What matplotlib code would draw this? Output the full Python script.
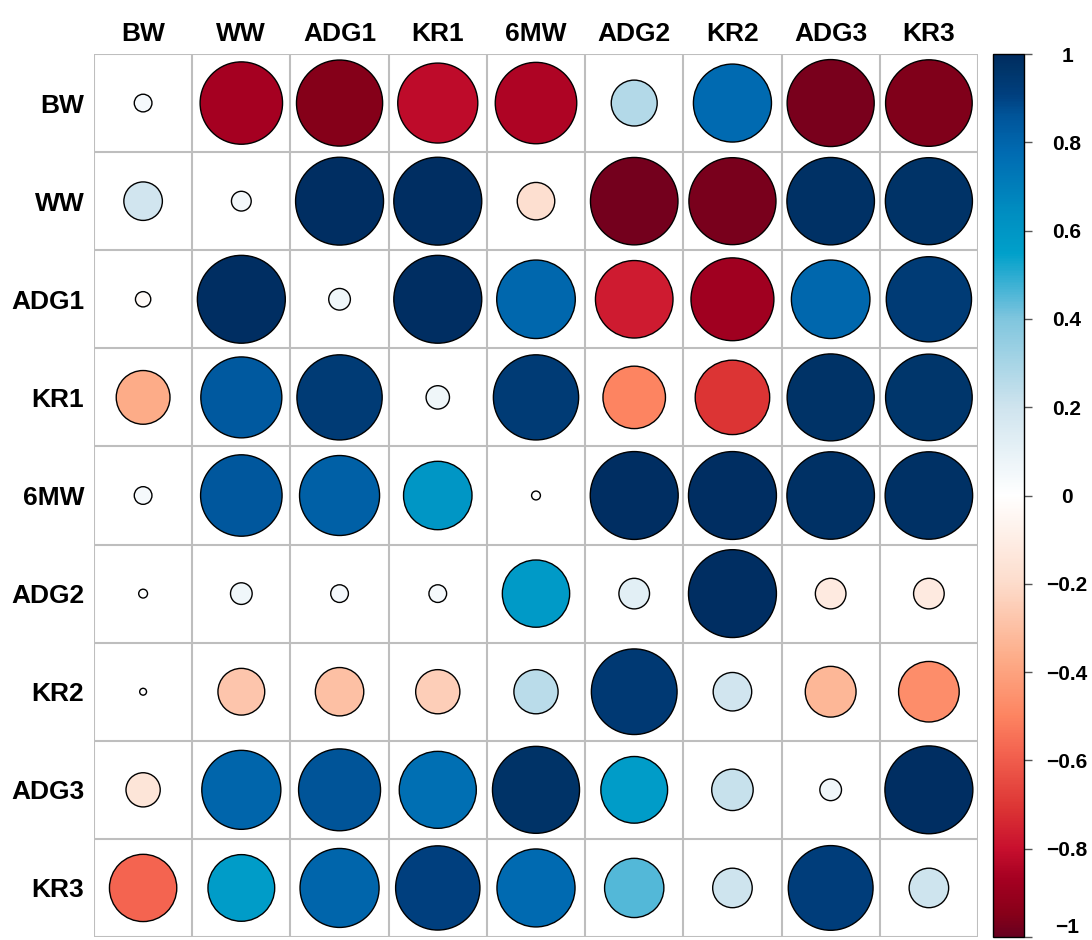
import numpy as np
import matplotlib.pyplot as plt
from matplotlib.patches import Circle
from matplotlib.colors import LinearSegmentedColormap, Normalize
from matplotlib.cm import ScalarMappable

plt.rcParams['font.family'] = ['Liberation Sans', 'DejaVu Sans']

# variable names (rows and columns)
labels = ["BW", "WW", "ADG1", "KR1", "6MW", "ADG2", "KR2", "ADG3", "KR3"]

# correlation values, one list per row
r_bw   = [0.04, -0.87, -0.95, -0.82, -0.85, 0.27, 0.78, -0.97, -0.96]
r_ww   = [0.19, 0.05, 0.99, 0.99, -0.18, -0.98, -0.97, 0.98, 0.97]
r_adg1 = [-0.03, 0.99, 0.06, 0.99, 0.79, -0.77, -0.88, 0.79, 0.93]
r_kr1  = [-0.37, 0.84, 0.93, 0.07, 0.93, -0.50, -0.71, 0.97, 0.96]
r_6mw  = [0.04, 0.85, 0.82, 0.60, 0.01, 0.99, 0.99, 0.98, 0.98]
r_adg2 = [0.01, 0.06, 0.04, 0.04, 0.58, 0.12, 0.99, -0.12, -0.12]
r_kr2  = [0.006, -0.28, -0.30, -0.25, 0.25, 0.94, 0.19, -0.33, -0.47]
r_adg3 = [-0.15, 0.80, 0.86, 0.76, 0.97, 0.57, 0.22, 0.06, 0.99]
r_kr3  = [-0.58, 0.57, 0.80, 0.91, 0.78, 0.45, 0.20, 0.92, 0.20]

corr = np.array([r_bw, r_ww, r_adg1, r_kr1, r_6mw, r_adg2, r_kr2, r_adg3, r_kr3])

# colour ramp from dark red through white to dark blue (value, colour)
ramp = [(-1.0, "#67001F"), (-0.95, "#870019"), (-0.87, "#A50021"), (-0.8, "#C8102E"),
        (-0.71, "#DC3434"), (-0.58, "#F46450"), (-0.5, "#FD8461"), (-0.37, "#FDAC88"),
        (-0.2, "#FDDCCB"), (0.0, "#FFFFFF"), (0.2, "#CFE4EE"), (0.4, "#80C6DE"),
        (0.45, "#55B8D8"), (0.55, "#00A0CA"), (0.65, "#008CC0"), (0.78, "#006AB1"),
        (0.86, "#00559A"), (0.91, "#003F7E"), (0.97, "#003468"), (1.0, "#002C60")]
cmap = LinearSegmentedColormap.from_list("corr", [((v + 1) / 2, c) for v, c in ramp], N=512)
norm = Normalize(-1, 1)

fig = plt.figure(figsize=(10.92, 9.40), dpi=100)
ax = fig.add_axes([94/1092, 3/940, 884/1092, 883/940])

n = len(labels)
for i in range(n):
    for j in range(n):
        v = corr[i, j]
        ax.add_patch(Circle((j, i), 0.45*np.sqrt(abs(v)), facecolor=cmap(norm(v)),
                            edgecolor="black", lw=1, zorder=3))

# grid lines between cells
for k in range(n + 1):
    ax.axhline(k - 0.5, color="#BEBEBE", lw=1.5, zorder=1)
    ax.axvline(k - 0.5, color="#BEBEBE", lw=1.5, zorder=1)

ax.set_xlim(-0.5, n - 0.5)
ax.set_ylim(n - 0.5, -0.5)
ax.set_aspect("auto")
ax.xaxis.tick_top()
ax.set_xticks(range(n))
ax.set_xticklabels(labels, fontsize=19, fontweight="bold")
ax.set_yticks(range(n))
ax.set_yticklabels(labels, fontsize=19, fontweight="bold")
ax.tick_params(axis="x", length=0, pad=6)
ax.tick_params(axis="y", length=0, pad=7)
for s in ax.spines.values():
    s.set_visible(False)

# colour legend
cax = fig.add_axes([993/1092, 3/940, 31/1092, 883/940])
cb = fig.colorbar(ScalarMappable(norm=norm, cmap=cmap), cax=cax)
ticks = np.round(np.arange(-1, 1.01, 0.2), 1)
cb.set_ticks(ticks)
cb.set_ticklabels([("%g" % t).replace("-", "\u2212") if abs(t) > 1e-9 else "0" for t in ticks])
cb.outline.set_linewidth(1)
cax.tick_params(labelsize=15, length=6, width=1, color="#555555", pad=25)
for t in cax.get_yticklabels():
    t.set_fontweight("bold")
    t.set_horizontalalignment("center")
cax.get_yticklabels()[0].set_verticalalignment("bottom")

plt.savefig("out.png", dpi=100)
